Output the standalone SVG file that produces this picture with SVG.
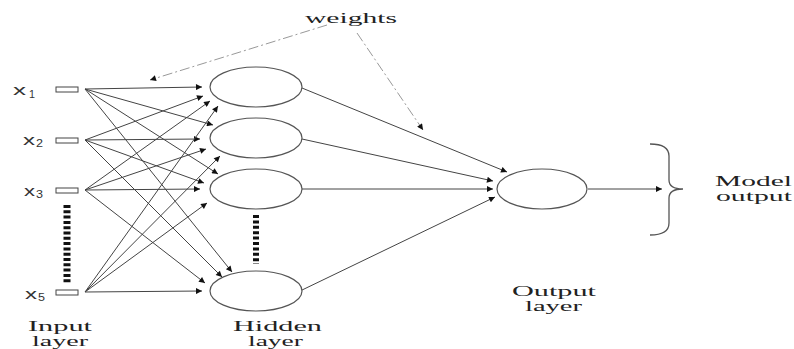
<svg xmlns="http://www.w3.org/2000/svg" width="794" height="349" viewBox="0 0 794 349">
<defs>
<marker id="ah" viewBox="0 0 10 10" refX="10" refY="5" markerWidth="9" markerHeight="6" markerUnits="userSpaceOnUse" orient="auto"><path d="M0,0 L10,5 L0,10 z" fill="#111"/></marker>
<style>
.node{fill:#fff;stroke:#555;stroke-width:1.2}
.in{fill:#fff;stroke:#444;stroke-width:1}
.e{fill:none;stroke:#444;stroke-width:1;marker-end:url(#ah)}
.w{fill:none;stroke:#999;stroke-width:1;stroke-dasharray:10 3 2 3;marker-end:url(#ah)}
.dots{stroke:#111;fill:none}
.sans{font-family:"Liberation Sans",Arial,sans-serif;fill:#333}
.serif{font-family:"Liberation Serif","Times New Roman",serif;fill:#222;font-size:15px}
</style>
</defs>
<rect width="794" height="349" fill="#fff"/>
<g id="connectors">
<path class="e" d="M85,89 L202,87"/>
<path class="e" d="M85,89 L213,125"/>
<path class="e" d="M85,89 L218,174"/>
<path class="e" d="M85,89 L232,272"/>
<path class="e" d="M85,140 L203,96"/>
<path class="e" d="M85,140 L200,139"/>
<path class="e" d="M85,140 L204,183"/>
<path class="e" d="M85,140 L222,277"/>
<path class="e" d="M85,190 L210,101"/>
<path class="e" d="M85,190 L206,149"/>
<path class="e" d="M85,190 L200,189"/>
<path class="e" d="M85,190 L205,283"/>
<path class="e" d="M85,292 L218,106"/>
<path class="e" d="M85,292 L220,156"/>
<path class="e" d="M85,292 L207,203"/>
<path class="e" d="M85,292 L202,291"/>
<path class="e" d="M302,88 L507,172"/>
<path class="e" d="M302,139 L493,181"/>
<path class="e" d="M302,189 L493,189"/>
<path class="e" d="M300,291 L495,197"/>
<path class="e" d="M588,189 L662,189"/>
<path class="w" d="M327,25 L150,80"/>
<path class="w" d="M357,33 L423,130"/>
</g>
<g id="inputs">
<g id="x1"><rect class="in" x="56" y="87" width="22" height="5"/><text class="sans" x="13" y="95" font-size="15" textLength="13" lengthAdjust="spacingAndGlyphs">x</text><text class="sans" x="29" y="98" font-size="11" textLength="6" lengthAdjust="spacingAndGlyphs">1</text></g>
<g id="x2"><rect class="in" x="56" y="138" width="22" height="5"/><text class="sans" x="23" y="145" font-size="15" textLength="12" lengthAdjust="spacingAndGlyphs">x</text><text class="sans" x="36" y="147" font-size="11" textLength="7" lengthAdjust="spacingAndGlyphs">2</text></g>
<g id="x3"><rect class="in" x="56" y="188" width="22" height="5"/><text class="sans" x="24" y="196" font-size="15" textLength="11" lengthAdjust="spacingAndGlyphs">x</text><text class="sans" x="36" y="198" font-size="11" textLength="7" lengthAdjust="spacingAndGlyphs">3</text></g>
<g id="x5"><rect class="in" x="56" y="290" width="22" height="5"/><text class="sans" x="25" y="299" font-size="15" textLength="12" lengthAdjust="spacingAndGlyphs">x</text><text class="sans" x="38" y="301" font-size="11" textLength="7" lengthAdjust="spacingAndGlyphs">5</text></g>
<line class="dots" x1="67" y1="205" x2="67" y2="284" stroke-width="7" stroke-dasharray="3 2.3"/>
</g>
<g id="hidden">
<ellipse id="h1" class="node" cx="256" cy="87" rx="46" ry="20"/>
<ellipse id="h2" class="node" cx="256" cy="138" rx="46" ry="20"/>
<ellipse id="h3" class="node" cx="256" cy="189" rx="46" ry="20"/>
<ellipse id="h4" class="node" cx="256" cy="291" rx="46" ry="20"/>
<line class="dots" x1="256" y1="215" x2="256" y2="264" stroke-width="6" stroke-dasharray="3 2.4"/>
</g>
<g id="output">
<ellipse class="node" cx="542" cy="189" rx="45" ry="20"/>
</g>
<g id="brace">
<path d="M650,144 Q669,144 669,156 L669,180 Q669,189 683,189 Q669,189 669,198 L669,223 Q669,235 650,235" fill="none" stroke="#555" stroke-width="1.3"/>
</g>
<g id="labels">
<text class="serif" x="305" y="23" textLength="92" lengthAdjust="spacingAndGlyphs">weights</text>
<text class="serif" x="715" y="186" font-size="13" textLength="77" lengthAdjust="spacingAndGlyphs">Model</text>
<text class="serif" x="716" y="201" font-size="13" textLength="76" lengthAdjust="spacingAndGlyphs">output</text>
<text class="serif" x="512" y="296" font-size="13" textLength="84" lengthAdjust="spacingAndGlyphs">Output</text>
<text class="serif" x="525" y="311" font-size="13" textLength="57" lengthAdjust="spacingAndGlyphs">layer</text>
<text class="serif" x="28" y="331" font-size="13" textLength="64" lengthAdjust="spacingAndGlyphs">Input</text>
<text class="serif" x="32" y="346" font-size="13" textLength="56" lengthAdjust="spacingAndGlyphs">layer</text>
<text class="serif" x="233" y="331" font-size="13" textLength="89" lengthAdjust="spacingAndGlyphs">Hidden</text>
<text class="serif" x="248" y="346" font-size="13" textLength="55" lengthAdjust="spacingAndGlyphs">layer</text>
</g>
</svg>
